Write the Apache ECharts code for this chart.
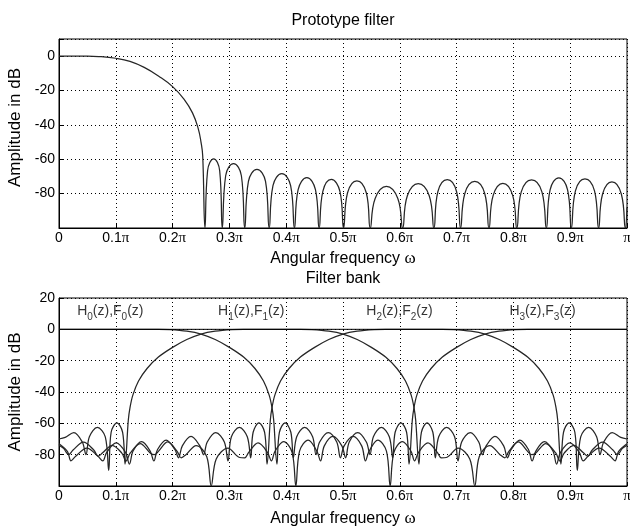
<!DOCTYPE html>
<html>
<head>
<meta charset="utf-8">
<script src="https://cdn.jsdelivr.net/npm/echarts@6.0.0/dist/echarts.min.js"></script>
<style>
  * { margin: 0; padding: 0; }
  #chart-container { width: 630px; height: 531px; background: #fff; overflow: hidden; }
</style>
</head>
<body>
<div id="chart-container"></div>
<script>
// frequencies are in units of pi, magnitudes in dB
var protoResp = [
  [0, 0], [0.05, 0], [0.07, -0.2], [0.1, -1.2], [0.125, -3], [0.15, -6.5], [0.175, -11.5],
  [0.2, -17.7], [0.22, -25], [0.235, -33], [0.245, -42], [0.25, -50], [0.253, -58], [0.257, -100],
  [0.2616, -66.7], [0.2723, -59.7], [0.2829, -66.7], [0.2875, -100],
  [0.2934, -69.6], [0.3073, -62.6], [0.3211, -69.6], [0.327, -100],
  [0.3335, -72.9], [0.3485, -65.9], [0.3636, -72.9], [0.37, -100],
  [0.3767, -75.4], [0.3923, -68.4], [0.4078, -75.4], [0.4145, -100],
  [0.421, -77.7], [0.4363, -70.7], [0.4515, -77.7], [0.458, -100],
  [0.4645, -78.7], [0.4795, -71.7], [0.4946, -78.7], [0.501, -100],
  [0.508, -79.5], [0.5245, -72.5], [0.541, -79.5], [0.548, -100],
  [0.5566, -82.8], [0.5765, -75.8], [0.5965, -82.8], [0.605, -100],
  [0.6133, -81.2], [0.6325, -74.2], [0.6518, -81.2], [0.66, -100],
  [0.667, -78.9], [0.6835, -71.9], [0.7, -78.9], [0.707, -100],
  [0.7145, -79.9], [0.732, -72.9], [0.7495, -79.9], [0.757, -100],
  [0.7644, -81], [0.7815, -74], [0.7987, -81], [0.806, -100],
  [0.8138, -79], [0.832, -72], [0.8502, -79], [0.858, -100],
  [0.8646, -77.8], [0.88, -70.8], [0.8954, -77.8], [0.902, -100],
  [0.9092, -78.4], [0.926, -71.4], [0.9428, -78.4], [0.95, -100],
  [0.957, -80.2], [0.9735, -73.2], [0.99, -80.2], [0.997, -100], [1, -88]
]

var h0Resp = [
  [0, 0], [0.175, 0], [0.195, -0.2], [0.225, -1.2], [0.25, -3], [0.275, -6.5], [0.3, -11.5],
  [0.325, -17.7], [0.345, -25], [0.36, -33], [0.37, -42], [0.375, -50], [0.378, -58], [0.3837, -86],
  [0.388, -65.7], [0.3981, -59.7], [0.4082, -65.7], [0.4125, -82],
  [0.4185, -68.6], [0.4325, -62.6], [0.4465, -68.6], [0.4525, -80],
  [0.4589, -71.9], [0.474, -65.9], [0.489, -71.9], [0.4954, -82],
  [0.502, -74.4], [0.5175, -68.4], [0.5329, -74.4], [0.5395, -84],
  [0.546, -77.7], [0.5613, -70.7], [0.5765, -77.7], [0.583, -100],
  [0.5895, -78.7], [0.6045, -71.7], [0.6196, -77.7], [0.626, -84],
  [0.633, -78.5], [0.6495, -72.5], [0.666, -78.5], [0.673, -82],
  [0.6819, -81.8], [0.7025, -75.8], [0.7232, -82.8], [0.732, -100],
  [0.74, -81.2], [0.7585, -74.2], [0.777, -80.2], [0.785, -82],
  [0.792, -77.9], [0.8085, -71.9], [0.825, -77.9], [0.832, -80],
  [0.8395, -78.9], [0.857, -72.9], [0.8745, -78.9], [0.882, -84],
  [0.8894, -79], [0.9065, -74], [0.9237, -79], [0.931, -81],
  [0.9388, -77], [0.957, -72], [0.9752, -77], [0.983, -80],
  [0.992, -76], [1, -74]
]

var h1Resp = [
  [0, -70], [0.011, -69], [0.026, -65.9], [0.041, -71.9], [0.0475, -80],
  [0.0535, -68.6], [0.0675, -62.6], [0.0815, -68.6], [0.0875, -90],
  [0.0918, -65.7], [0.1019, -59.7], [0.112, -65.7], [0.1163, -86],
  [0.122, -58], [0.125, -50], [0.13, -42], [0.14, -33], [0.155, -25], [0.175, -17.7], [0.2, -11.5],
  [0.225, -6.5], [0.25, -3], [0.275, -1.2], [0.305, -0.2], [0.325, 0], [0.425, 0], [0.445, -0.2],
  [0.475, -1.2], [0.5, -3], [0.525, -6.5], [0.55, -11.5], [0.575, -17.7], [0.595, -25], [0.61, -33],
  [0.62, -42], [0.625, -50], [0.628, -58], [0.6337, -86],
  [0.638, -65.7], [0.6481, -59.7], [0.6582, -65.7], [0.6625, -82],
  [0.6685, -68.6], [0.6825, -62.6], [0.6965, -68.6], [0.7025, -84],
  [0.7089, -71.9], [0.724, -65.9], [0.739, -71.9], [0.7454, -80],
  [0.752, -74.4], [0.7675, -68.4], [0.7829, -74.4], [0.7895, -82],
  [0.796, -76.7], [0.8113, -70.7], [0.8265, -76.7], [0.833, -84],
  [0.8395, -77.7], [0.8545, -71.7], [0.8696, -77.7], [0.876, -86],
  [0.883, -78.5], [0.8995, -72.5], [0.916, -78.5], [0.923, -84],
  [0.9314, -81], [0.951, -75.8], [0.9706, -81], [0.979, -84],
  [0.985, -78], [1, -73]
]

var h2Resp = [
  [0, -73], [0.015, -78], [0.021, -84],
  [0.0294, -81], [0.049, -75.8], [0.0686, -81], [0.077, -84],
  [0.084, -78.5], [0.1005, -72.5], [0.117, -78.5], [0.124, -86],
  [0.1304, -77.7], [0.1455, -71.7], [0.1605, -77.7], [0.167, -84],
  [0.1735, -76.7], [0.1887, -70.7], [0.204, -76.7], [0.2105, -82],
  [0.2171, -74.4], [0.2325, -68.4], [0.248, -74.4], [0.2546, -80],
  [0.261, -71.9], [0.276, -65.9], [0.2911, -71.9], [0.2975, -84],
  [0.3035, -68.6], [0.3175, -62.6], [0.3315, -68.6], [0.3375, -82],
  [0.3418, -65.7], [0.3519, -59.7], [0.362, -65.7], [0.3663, -86],
  [0.372, -58], [0.375, -50], [0.38, -42], [0.39, -33], [0.405, -25], [0.425, -17.7], [0.45, -11.5],
  [0.475, -6.5], [0.5, -3], [0.525, -1.2], [0.555, -0.2], [0.575, 0], [0.675, 0], [0.695, -0.2],
  [0.725, -1.2], [0.75, -3], [0.775, -6.5], [0.8, -11.5], [0.825, -17.7], [0.845, -25], [0.86, -33],
  [0.87, -42], [0.875, -50], [0.878, -58], [0.8837, -86],
  [0.8882, -65.7], [0.8981, -59.7], [0.9082, -65.7], [0.9125, -90],
  [0.9185, -68.6], [0.9325, -62.6], [0.9465, -68.6], [0.9525, -80],
  [0.959, -71.9], [0.974, -65.9], [0.989, -69], [1, -70]
]

var h3Resp = [
  [0, -74], [0.008, -76], [0.017, -80],
  [0.0248, -77], [0.043, -72], [0.0612, -77], [0.069, -81],
  [0.0763, -79], [0.0935, -74], [0.1106, -79], [0.118, -84],
  [0.1255, -78.9], [0.143, -72.9], [0.1605, -78.9], [0.168, -80],
  [0.175, -77.9], [0.1915, -71.9], [0.208, -77.9], [0.215, -82],
  [0.223, -80.2], [0.2415, -74.2], [0.26, -81.2], [0.268, -100],
  [0.2768, -82.8], [0.2975, -75.8], [0.3181, -81.8], [0.327, -82],
  [0.334, -78.5], [0.3505, -72.5], [0.367, -78.5], [0.374, -84],
  [0.3804, -77.7], [0.3955, -71.7], [0.4105, -78.7], [0.417, -100],
  [0.4235, -77.7], [0.4387, -70.7], [0.454, -77.7], [0.4605, -84],
  [0.4671, -74.4], [0.4825, -68.4], [0.498, -74.4], [0.5046, -82],
  [0.511, -71.9], [0.526, -65.9], [0.5411, -71.9], [0.5475, -80],
  [0.5535, -68.6], [0.5675, -62.6], [0.5815, -68.6], [0.5875, -82],
  [0.5918, -65.7], [0.6019, -59.7], [0.612, -65.7], [0.6163, -86],
  [0.622, -58], [0.625, -50], [0.63, -42], [0.64, -33], [0.655, -25], [0.675, -17.7], [0.7, -11.5],
  [0.725, -6.5], [0.75, -3], [0.775, -1.2], [0.805, -0.2], [0.825, 0], [1, 0]
]

// overall distortion, flat at 0 dB
var distResp = [[0, 0], [1, 0]]

var bandIndex = ['0', '1', '2', '3']
var bandLabelX = [0.032, 0.28, 0.541, 0.793]
var bandLabelY = 11.6

var sansFont = '"Liberation Sans", Arial, Helvetica, sans-serif'
var serifFont = '"Liberation Serif", "Times New Roman", serif'

function piLabel(v) {
  if (v === 0) return '{n|0}'
  if (Math.abs(v - 1) < 1e-6) return '{p|π}'
  return '{n|' + Math.round(v * 10) / 10 + '}{p|π}'
}

function freqAxis(gridIndex, nameGap) {
  return {
    type: 'value',
    gridIndex: gridIndex,
    min: 0,
    max: 1,
    interval: 0.1,
    name: 'Angular frequency {w|ω}',
    nameLocation: 'middle',
    nameGap: nameGap,
    nameTextStyle: {
      color: '#000', fontSize: 16, fontFamily: sansFont,
      rich: { w: { color: '#000', fontSize: 17, fontFamily: serifFont } },
    },
    axisLine: { onZero: false, lineStyle: { color: '#000', width: 1 } },
    axisTick: { inside: true, length: 4, lineStyle: { color: '#000' } },
    axisLabel: {
      margin: 3,
      formatter: piLabel,
      rich: {
        n: { color: '#000', fontSize: 14, fontFamily: sansFont },
        p: { color: '#000', fontSize: 15, fontFamily: serifFont },
      },
    },
    splitLine: { show: true, lineStyle: { color: '#000', width: 1, type: [1, 3] } },
  }
}

function dbAxis(gridIndex, max, namePad) {
  return {
    type: 'value',
    gridIndex: gridIndex,
    min: -100,
    max: max,
    interval: 20,
    name: 'Amplitude in dB',
    nameLocation: 'middle',
    nameGap: 32,
    nameTextStyle: { color: '#000', fontSize: 17, fontFamily: sansFont, padding: namePad },
    axisLine: { onZero: false, lineStyle: { color: '#000', width: 1 } },
    axisTick: { inside: true, length: 4, lineStyle: { color: '#000' } },
    axisLabel: {
      margin: 4,
      color: '#000',
      fontSize: 14,
      fontFamily: sansFont,
      formatter: function (v) {
        if (v === -100 || v === 10) return ''
        return String(v)
      },
    },
    splitLine: { show: true, lineStyle: { color: '#000', width: 1, type: [1, 3] } },
  }
}

function respSeries(data, idx, smooth) {
  return {
    type: 'line',
    xAxisIndex: idx,
    yAxisIndex: idx,
    data: data,
    symbol: 'none',
    showSymbol: false,
    smooth: smooth,
    clip: true,
    silent: true,
    lineStyle: { color: '#262626', width: 1.25 },
  }
}

var chartDom = document.getElementById('chart-container')
var myChart = echarts.init(chartDom, null, { renderer: 'canvas' })

var option = {
  animation: false,
  backgroundColor: '#fff',
  graphic: [
    {
      type: 'text', x: 343, y: 21,
      style: { text: 'Prototype filter', fill: '#000', fontSize: 16, fontFamily: sansFont, align: 'center', verticalAlign: 'middle' },
    },
    {
      type: 'text', x: 343, y: 279,
      style: { text: 'Filter bank', fill: '#000', fontSize: 16, fontFamily: sansFont, align: 'center', verticalAlign: 'middle' },
    },
  ],
  grid: [
    { left: 59, right: 3, top: 39, height: 189, show: true, borderColor: '#000', borderWidth: 1, outerBoundsMode: 'none' },
    { left: 59, right: 3, top: 298, height: 188, show: true, borderColor: '#000', borderWidth: 1, outerBoundsMode: 'none' },
  ],
  xAxis: [freqAxis(0, 22), freqAxis(1, 24)],
  yAxis: [dbAxis(0, 10, [0, 0, 0, 12]), dbAxis(1, 20, 0)],
  series: [
    respSeries(protoResp, 0, 0.45),
    respSeries(h0Resp, 1, 0.35),
    respSeries(h1Resp, 1, 0.35),
    respSeries(h2Resp, 1, 0.35),
    respSeries(h3Resp, 1, 0.35),
    {
      type: 'line', xAxisIndex: 1, yAxisIndex: 1, data: distResp, symbol: 'none',
      lineStyle: { color: '#000', width: 1 }, silent: true,
    },
    {
      type: 'scatter',
      xAxisIndex: 1,
      yAxisIndex: 1,
      symbolSize: 0,
      silent: true,
      data: bandIndex.map(function (k, i) {
        return { name: k, value: [bandLabelX[i], bandLabelY] }
      }),
      label: {
        show: true,
        position: 'right',
        distance: 0,
        formatter: function (p) {
          return '{n|H}{s|' + p.name + '}{n|(z),F}{s|' + p.name + '}{n|(z)}'
        },
        rich: {
          n: { color: '#000', fontSize: 14, fontFamily: sansFont },
          s: { color: '#000', fontSize: 10, fontFamily: sansFont, padding: [12, 0, 0, 0] },
        },
      },
    },
  ],
}

myChart.setOption(option)
window.addEventListener('resize', myChart.resize)
</script>
</body>
</html>
